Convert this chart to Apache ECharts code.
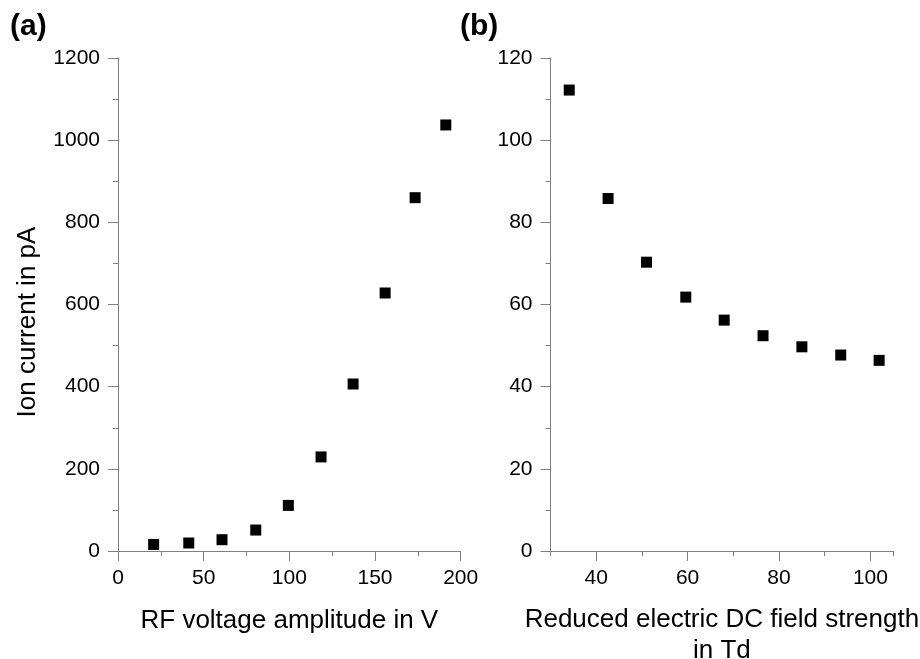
<!DOCTYPE html>
<html>
<head>
<meta charset="utf-8">
<script src="https://cdn.jsdelivr.net/npm/echarts@6/dist/echarts.min.js"></script>
<style>html,body{margin:0;padding:0;background:#fff}#c{width:920px;height:659px}</style>
</head>
<body>
<div id="c"></div>
<script>
// Panel (a): ion current vs RF voltage amplitude
const rfVoltage = [20.8, 41.3, 60.7, 80.4, 99.4, 118.5, 137.2, 155.9, 173.4, 191.3];
const ionCurrentA = [16, 19.5, 27.5, 51, 111, 229, 406.5, 628, 860, 1037];
// Panel (b): ion current vs reduced electric DC field strength
const fieldStrength = [34.1, 42.6, 51.0, 59.6, 68.0, 76.5, 85.0, 93.5, 101.9];
const ionCurrentB = [112.2, 85.8, 70.3, 61.8, 56.2, 52.4, 49.7, 47.7, 46.4];
const xTicksB = [40, 60, 80, 100];

const FONT = 'Liberation Sans, Arial, sans-serif';
const AX = '#7f7f7f';
const lineStyle = { color: AX, width: 1 };
const tickBase = { show: true, lineStyle: { color: AX, width: 1 } };
const plain = v => String(v);
const labelBase = { color: '#000', fontSize: 21, fontFamily: FONT, formatter: plain };

const chart = echarts.init(document.getElementById('c'), null, { renderer: 'canvas' });
chart.setOption({
  animation: false,
  backgroundColor: '#fff',
  graphic: [
    { type: 'text', left: 10, top: 12, style: { text: '(a)', font: 'bold 30px ' + FONT, fill: '#000' } },
    { type: 'text', left: 460, top: 12, style: { text: '(b)', font: 'bold 30px ' + FONT, fill: '#000' } }
  ],
  grid: [
    { left: 118, top: 58, width: 342.7, height: 493, containLabel: false, outerBoundsMode: 'none' },
    { left: 550.5, top: 58, width: 342.8, height: 493, containLabel: false, outerBoundsMode: 'none' },
    { left: 550.5, top: 58, width: 342.8, height: 493, containLabel: false, outerBoundsMode: 'none' }
  ],
  xAxis: [
    {
      gridIndex: 0, type: 'value', min: 0, max: 200, interval: 50, position: 'bottom',
      name: 'RF voltage amplitude in V', nameLocation: 'middle', nameGap: 57,
      nameTextStyle: { fontSize: 26, fontFamily: FONT, color: '#000' },
      axisLine: { show: true, lineStyle },
      axisTick: Object.assign({ length: 10 }, tickBase),
      minorTick: { show: true, splitNumber: 2, length: 5, lineStyle: { color: AX, width: 1 } },
      axisLabel: Object.assign({ margin: 17 }, labelBase),
      splitLine: { show: false }
    },
    {
      gridIndex: 1, type: 'value', min: 30, max: 105, interval: 10, position: 'bottom',
      name: 'Reduced electric DC field strength\nin Td', nameLocation: 'middle', nameGap: 53,
      nameTextStyle: { fontSize: 26, fontFamily: FONT, color: '#000', lineHeight: 31 },
      axisLine: { show: true, lineStyle },
      axisTick: Object.assign({ length: 5 }, tickBase),
      axisLabel: Object.assign({ margin: 17, customValues: xTicksB }, labelBase),
      splitLine: { show: false }
    },
    {
      gridIndex: 2, type: 'value', min: 30, max: 105, interval: 10, position: 'bottom',
      axisLine: { show: false },
      axisTick: Object.assign({ length: 10, customValues: xTicksB }, tickBase),
      axisLabel: { show: false },
      splitLine: { show: false }
    }
  ],
  yAxis: [
    {
      gridIndex: 0, type: 'value', min: 0, max: 1200, interval: 200,
      name: 'Ion current in pA', nameLocation: 'middle', nameGap: 77,
      nameTextStyle: { fontSize: 26, fontFamily: FONT, color: '#000', padding: [0, 35, 0, 0] },
      axisLine: { show: true, lineStyle },
      axisTick: Object.assign({ length: 10 }, tickBase),
      minorTick: { show: true, splitNumber: 2, length: 5, lineStyle: { color: AX, width: 1 } },
      axisLabel: Object.assign({ margin: 18 }, labelBase),
      splitLine: { show: false }
    },
    {
      gridIndex: 1, type: 'value', min: 0, max: 120, interval: 20,
      axisLine: { show: true, lineStyle },
      axisTick: Object.assign({ length: 10 }, tickBase),
      minorTick: { show: true, splitNumber: 2, length: 5, lineStyle: { color: AX, width: 1 } },
      axisLabel: Object.assign({ margin: 18 }, labelBase),
      splitLine: { show: false }
    },
    {
      gridIndex: 2, type: 'value', min: 0, max: 120, show: false
    }
  ],
  series: [
    {
      type: 'scatter', xAxisIndex: 0, yAxisIndex: 0,
      symbol: 'rect', symbolSize: 11, itemStyle: { color: '#000', opacity: 1 },
      data: rfVoltage.map((x, i) => [x, ionCurrentA[i]])
    },
    {
      type: 'scatter', xAxisIndex: 1, yAxisIndex: 1,
      symbol: 'rect', symbolSize: 11, itemStyle: { color: '#000', opacity: 1 },
      data: fieldStrength.map((x, i) => [x, ionCurrentB[i]])
    }
  ]
});
</script>
</body>
</html>
